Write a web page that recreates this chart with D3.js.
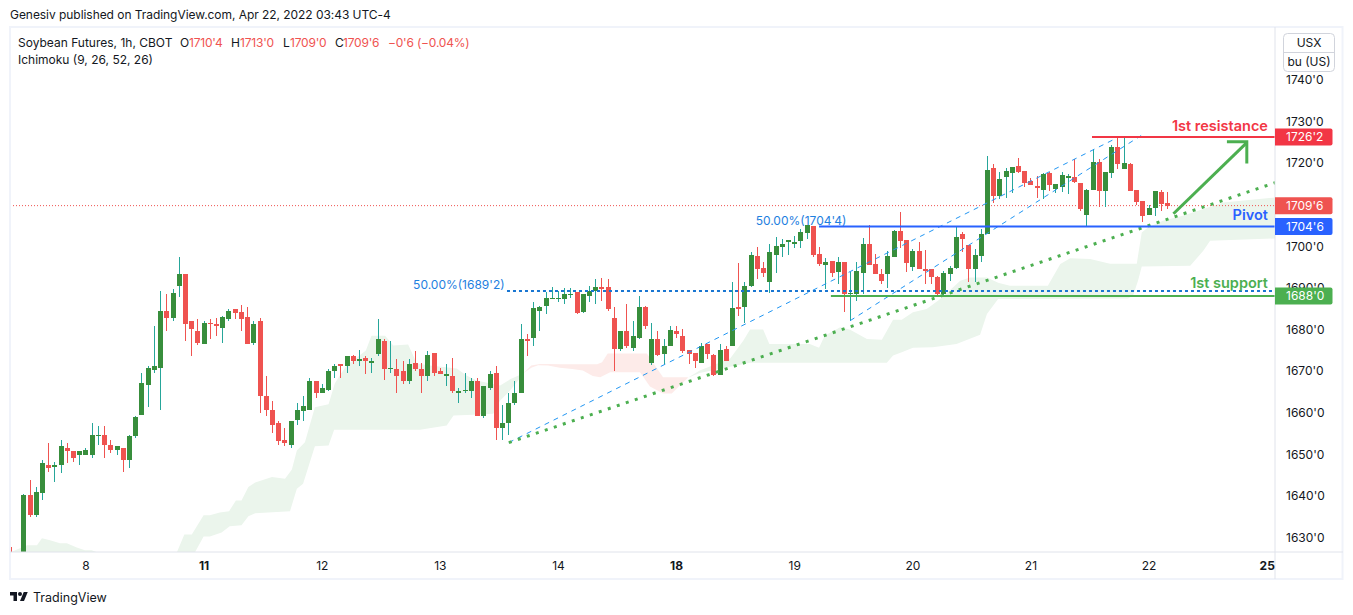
<!DOCTYPE html>
<html lang="en">
<head>
  <meta charset="UTF-8">
  <title>Soybean Futures</title>
  <style>
    html, body { margin: 0; padding: 0; background: #fff; }
    svg { display: block; }
    text { font-family: Inter, "Noto Sans", sans-serif; fill: #131722; }
  </style>
</head>
<body>
  <svg id="svg" width="1353" height="615"></svg>
  <script src="https://cdn.jsdelivr.net/npm/d3@7"></script>
  <script>
    // candles, one per hour, first two sit below the visible range
    const open = [
      1625,1622,1620,1640.3,1635.3,1640.6,1647.5,1647,1647.3,1651.4,
      1650.7,1649.9,1649.9,1649.9,1654.3,1654.5,1652.3,1650.9,1651.6,1648.5,
      1654.3,1659.5,1666.7,1670.3,1670.8,1684.5,1682.8,1690.5,1693.4,1681.9,
      1679.7,1676.6,1681.6,1681.4,1680.4,1682.6,1684.8,1684.3,1683.1,1676.8,
      1681.9,1664.1,1660.7,1657.4,1653.3,1652.3,1658.3,1660.5,1660.7,1667.7,
      1664.6,1665.5,1669.9,1671.6,1671.3,1673.5,1672.5,1673.2,1672,1674.2,
      1677.1,1670.6,1670.4,1669.9,1667.7,1672,1670.4,1668.7,1674.4,1670.1,
      1668.9,1668.9,1664.8,1665.1,1665.3,1667.7,1659.3,1666,1669.4,1656.4,
      1657.4,1662.4,1664.8,1677.8,1678,1684.5,1685.7,1687.4,1687.2,1687.2,
      1688.4,1689.1,1684.3,1688.1,1689.3,1690.3,1690.3,1682.8,1675.4,1679.7,
      1675.6,1678,1685.5,1672,1677.6,1674.2,1676.1,1679.7,1678.3,1675.1,
      1674.4,1672,1676.4,1673.95,1669.1,1675.4,1676.1,1685.5,1685.5,1690.5,
      1697.7,1694.8,1691.5,1698,1699.9,1700.9,1700.6,1701.3,1703.2,1704.9,
      1698.2,1695.6,1696.5,1693.9,1696.3,1688.6,1688.6,1693.6,1700.6,1695.8,
      1693.4,1693.2,1697.5,1703.7,1701.6,1695.1,1698.9,1694.6,1694.6,1692.7,
      1688.6,1693.4,1694.85,1703,1700.4,1694.6,1697.7,1703,1718.9,1712.1,
      1716.7,1717.7,1719.3,1718.1,1715.7,1714.5,1713.6,1717.7,1713.8,1714.3,
      1716.5,1716.7,1715.3,1707.6,1713.6,1720.3,1713.3,1717.7,1723.9,1718.6,
      1719.8,1713.6,1710.9,1707.6,1709.2,1713.1,1710.5
    ]
    const high = [
      1627.7,1624,1640.4,1643.9,1642,1648.5,1652.6,1648.2,1653.3,1652.8,
      1650.7,1650.7,1651.4,1657.4,1656.7,1656.7,1653.3,1651.9,1651.6,1654.5,
      1659.3,1669.4,1671.3,1680.9,1689.3,1688.6,1689.6,1697.5,1693.4,1681.9,
      1682.6,1682.1,1682.6,1682.8,1683.3,1684.8,1684.8,1685.9,1685.5,1682.1,
      1682.8,1668.9,1662.9,1657.9,1656.4,1658.1,1662.2,1663.9,1668.4,1667.7,
      1666.8,1670.4,1671.6,1671.8,1673.7,1673.9,1675.1,1673.7,1673.2,1682.6,
      1677.8,1677.3,1672.8,1672.3,1672.8,1674.9,1672,1674.9,1674.4,1670.8,
      1671.8,1673.2,1666,1669.4,1668.2,1668.2,1666.3,1670.1,1671.1,1661.9,
      1664.6,1667.7,1681.2,1678.8,1686.7,1685.7,1689.1,1690.3,1689.3,1690,
      1690,1689.1,1688.6,1690.5,1692.2,1692.4,1692,1685.5,1679.7,1686.2,
      1681.9,1688.1,1685.7,1681.6,1679.5,1677.8,1680.9,1680.7,1680.2,1675.1,
      1674.4,1676.8,1676.4,1674.2,1676.4,1676.1,1691.5,1696,1691.5,1698.7,
      1699.9,1696.3,1700.6,1702.3,1701.8,1701.6,1702.5,1704.2,1705.2,1704.9,
      1699.9,1697.2,1696.5,1697.5,1696.3,1693.9,1696.3,1702,1705.2,1698.2,
      1694.4,1698.9,1704,1708.3,1701.6,1699.4,1700.9,1699.2,1694.6,1692.9,
      1694.1,1695.3,1704.7,1703.5,1700.4,1699.4,1704.2,1721.7,1719.8,1717.9,
      1718.9,1719.1,1721.3,1718.1,1716.5,1716.9,1717.7,1717.9,1715,1717.9,
      1717.4,1721,1715.3,1713.8,1723.4,1721,1717.9,1724.4,1726.1,1726.1,
      1720.1,1713.6,1710.9,1710,1713.3,1713.6,1713
    ]
    const low = [
      1620,1618,1619,1635,1635,1638.9,1645.8,1643.2,1645.4,1647.8,
      1648.2,1647.3,1649.9,1649,1652.3,1649,1650.4,1649.7,1645.8,1646.8,
      1654,1659.5,1661.4,1669.4,1660.7,1679.7,1682.1,1687.9,1677.3,1673.7,
      1676.3,1676.6,1677.8,1678.5,1676.8,1681.9,1682.6,1679.5,1676.6,1676.3,
      1659.8,1659.3,1655,1652.3,1651.9,1651.4,1656.9,1658.1,1660.7,1663.4,
      1664.6,1665.3,1668.4,1668.2,1669.4,1671.6,1671.1,1669.2,1669.4,1673.5,
      1667.9,1669.6,1664.8,1666.8,1666.8,1669.9,1664.8,1667.7,1668.9,1669.2,
      1666.3,1664.8,1662.4,1664.8,1663.6,1659.1,1658.6,1665.5,1653.5,1653.5,
      1654.5,1661.9,1664.8,1673.7,1676.1,1679.7,1683.8,1687.2,1686.7,1686.2,
      1687.6,1683.8,1684,1686.7,1686,1686.9,1684.5,1669.9,1674.9,1675.6,
      1674.9,1677.8,1680.2,1671.5,1673.5,1671.8,1676.1,1678,1674.4,1671.8,
      1670.8,1672,1672.8,1668.9,1669.1,1672.3,1676.1,1683.3,1681.6,1690.3,
      1692.2,1692.5,1688.8,1693.6,1697.5,1698,1699.6,1699.6,1701.8,1697.5,
      1695.3,1689.8,1692.5,1690.8,1684.3,1681.9,1686.9,1688.6,1695.6,1693.2,
      1690.8,1690,1697.5,1699.6,1693.9,1694.1,1694.4,1690.8,1690.8,1688.1,
      1687.9,1691.7,1694.6,1698.7,1691.5,1691.5,1696.3,1703,1710.5,1711.4,
      1711.7,1712.9,1717.7,1714.3,1714.8,1711.7,1711.4,1713.3,1712.9,1713.1,
      1712.6,1715.3,1708.5,1704.5,1713.6,1709.5,1709.5,1716.5,1718.6,1718.6,
      1713.3,1710,1705.7,1707.6,1707.3,1708.5,1709
    ]
    const close = [
      1622,1620,1640.1,1635.3,1640.8,1648,1646.8,1647.5,1651.9,1650.7,
      1649.2,1650.7,1650.9,1654.5,1654.7,1652.3,1650.9,1651.9,1648.7,1654.3,
      1659,1667,1670.8,1671.3,1684.5,1682.8,1688.8,1693.4,1681.4,1680,
      1676.8,1681.6,1681.2,1680.7,1683.1,1684.5,1684,1682.6,1676.6,1681.4,
      1664.1,1660.7,1657.1,1653.1,1652.6,1657.9,1660.7,1661.5,1667.5,1664.8,
      1666,1669.9,1671.1,1671.1,1673.5,1672.5,1672.8,1672.3,1672.5,1677.6,
      1670.4,1670.8,1668.7,1667.5,1671.8,1670.4,1668.7,1673.95,1669.6,1669.2,
      1669.2,1665.3,1665.1,1665.5,1667.7,1659.1,1666.3,1669.2,1656.4,1657.6,
      1662.4,1664.8,1677.8,1677.3,1685.2,1685.5,1687.6,1687.6,1687.6,1688.6,
      1688.6,1684,1688.4,1689.3,1690.3,1689.8,1685,1675.4,1679.7,1675.9,
      1678.5,1685.5,1680.7,1677.8,1673.95,1676.1,1679.9,1679,1674.9,1674.1,
      1672.3,1676.1,1674.2,1669.1,1675.1,1672.5,1685.2,1685,1690.5,1698,
      1694.4,1693.6,1698.7,1700.1,1700.6,1701.6,1701.1,1703.5,1705.2,1698,
      1695.8,1696.3,1693.6,1696.3,1688.6,1688.8,1694.1,1700.6,1695.6,1693.2,
      1691.7,1697.7,1703.7,1701.3,1696,1698.9,1694.4,1694.1,1692.5,1688.6,
      1693.6,1694.85,1702.3,1701.8,1694.6,1698,1703,1718.4,1712.1,1716.2,
      1718.1,1719.1,1717.9,1715.3,1714.8,1714.1,1717.4,1714.8,1715,1717.2,
      1716.9,1715.5,1709,1713.6,1720.3,1713.3,1717.9,1723.9,1719.8,1720.1,
      1713.3,1710.7,1707.3,1709.2,1713.3,1710.2,1709.75
    ]

    // ichimoku cloud outlines: bar position and price
    const cloud1Bars = [-0.1,2.6,4.2,5,6.3,7.9,9,10.6,11.9,13,13.9]
    const cloud1Upper = [1626.4,1628.1,1628.1,1629.8,1629.3,1628.6,1628.6,1627.6,1626.9,1626.9,1626.4]

    const cloud2UpperBars = [26.7,27.9,29.1,31,32,33.6,35.1,36.2,37.1,38.2,39.3,42,44.1,45.2,46,47.3,48.9,51.1,52.1,52.9,54,57.1,58,60.2,61.5,63.9,65.3,67.4,71.7,73.3,74.9,78.7,80.3,82.4]
    const cloud2Upper = [1626.4,1630.7,1630.7,1635.3,1635.3,1636,1636.3,1638.9,1638.9,1642.1,1643.2,1644.5,1644.1,1646.3,1650.9,1652.9,1661.3,1662,1667,1668.9,1671.3,1674.9,1678.5,1678.5,1676.1,1676.4,1671.8,1671.3,1670.6,1668.9,1667.7,1666.5,1668,1669.4]
    const cloud2LowerBars = [29.6,31,32,33.9,35.2,37.1,38.2,39.3,44.9,46,47,48.9,51.1,52,65.8,70.1,71.2,74.4,77.6,78.7,80.3,81.6,82.4]
    const cloud2Lower = [1626.4,1630.2,1630.2,1631.2,1632.7,1632.9,1635.1,1635.8,1636.3,1641.7,1642.9,1651.9,1652.1,1655.9,1655.9,1656.9,1659.3,1659.5,1659.7,1662.9,1665.3,1667.7,1669.4]

    const redUpperBars = [82.4,83.7,85.1,86.4,88.3,94.3,95.1,96,102.3,103.6,104.9,108.9]
    const redUpper = [1669.4,1671.3,1671.7,1671.7,1671.6,1671.6,1672.1,1674.2,1674.2,1671.3,1668.5,1668.5]
    const redLowerBars = [82.4,83.7,84.8,86.4,88.3,90.3,92,93.6,94.8,96.4,101.2,102.8,104.9,106.3,107.6,108.9]
    const redLower = [1669.4,1670.8,1671.4,1671.3,1670.8,1670.5,1670.1,1668.8,1668.5,1669.7,1669.7,1666.3,1664.6,1664.6,1666.5,1668.4]

    const cloud3UpperBars = [108.9,110.8,115.7,117.8,118.9,121,122,128.5,130,130.9,133.4,135,137.7,140.1,141.9,143.3,145.1,147.3,149.5,152.7,154.3,157,158.8,160.7,166.8,168.8,170.4,173.6,176.8,181.1,181.9,182.9,185.3,188.5,195,204]
    const cloud3Upper = [1668.4,1670.1,1673,1677.3,1680,1680,1676.5,1676.5,1675.6,1678.5,1680.5,1679.9,1677.7,1677.5,1682.3,1682.3,1684.1,1684.9,1687.3,1691.7,1692.5,1692.5,1691.2,1690.5,1690.5,1695.7,1697.1,1696.9,1695.8,1695.8,1703.3,1704.5,1706.1,1707.3,1710.5,1711.8]
    const cloud3LowerBars = [108.9,110.8,114.3,118.9,140.9,141.9,143.3,145.1,148.3,152.1,155.9,157,158.8,179.7,180.5,181.3,181.9,189.7,191.8,192.9,204]
    const cloud3Lower = [1668.4,1669.5,1670.6,1672,1672,1673.7,1674.5,1675.6,1675.7,1676.5,1678.7,1683.7,1687.3,1687.4,1688.1,1691.7,1695.1,1695.3,1698.9,1701.3,1701.9]

    // axis ticks
    const priceTicks = [1630,1640,1650,1660,1670,1680,1690,1700,1710,1720,1730,1740]
    const dayBars = [12,31,50,69,88,107,126,145,164,183,202]
    const dayLabels = ['8','11','12','13','14','18','19','20','21','22','25']
    const boldDays = ['11','18','25']

    // levels
    const resistance = 1726.25
    const pivot = 1704.75
    const support = 1688
    const lastPrice = 1709.75
    const fibLevel = 1689.25

    const svg = d3.select('#svg')

    // scales, pixel positions fitted to the reference
    const x = d3.scaleLinear().domain([0, 202]).range([10.87, 1266.7])
    const y = d3.scaleLinear().domain([1630, 1740]).range([537.4, 79.8])

    const chartLeft = 10
    const chartRight = 1275
    const chartTop = 27
    const chartBottom = 552

    svg.append('defs').append('clipPath').attr('id', 'plot')
      .append('rect')
      .attr('x', chartLeft).attr('y', chartTop)
      .attr('width', chartRight - chartLeft).attr('height', chartBottom - chartTop)

    const plot = svg.append('g').attr('clip-path', 'url(#plot)')

    // Make the cloud
    const outline = d3.line().x(d => x(d[0])).y(d => y(d[1]))
    const shape = (ub, uv, lb, lv) =>
      outline(d3.zip(ub, uv).concat(d3.zip(lb, lv).reverse())) + 'Z'
    const cloudGreen = '#ebf5ec'
    const cloudRed = '#fdebe9'

    plot.append('path').attr('fill', cloudGreen)
      .attr('d', shape(cloud1Bars, cloud1Upper, cloud1Bars, cloud1Bars.map(() => 1620)))
    plot.append('path').attr('fill', cloudGreen)
      .attr('d', shape(cloud2UpperBars, cloud2Upper, cloud2LowerBars, cloud2Lower))
    plot.append('path').attr('fill', cloudRed)
      .attr('d', shape(redUpperBars, redUpper, redLowerBars, redLower))
    plot.append('path').attr('fill', cloudGreen)
      .attr('d', shape(cloud3UpperBars, cloud3Upper, cloud3LowerBars, cloud3Lower))

    // last price line
    plot.append('line')
      .attr('x1', chartLeft).attr('x2', chartRight)
      .attr('y1', y(lastPrice)).attr('y2', y(lastPrice))
      .attr('stroke', '#ef5350').attr('stroke-dasharray', '1 2')

    // Make the candles
    const candles = plot.append('g').attr('shape-rendering', 'crispEdges')
      .selectAll('g').data(d3.range(open.length)).enter().append('g')

    candles.append('rect')
      .attr('x', i => Math.round(x(i)))
      .attr('width', 1)
      .attr('y', i => Math.round(y(high[i])))
      .attr('height', i => Math.max(1, Math.round(y(low[i])) - Math.round(y(high[i]))))
      .attr('fill', i => close[i] >= open[i] ? '#26a69a' : '#ef5350')

    candles.append('rect')
      .attr('x', i => Math.round(x(i)) - 2)
      .attr('width', 5)
      .attr('y', i => Math.round(y(Math.max(open[i], close[i]))))
      .attr('height', i => Math.max(1, Math.round(y(Math.min(open[i], close[i]))) - Math.round(y(Math.max(open[i], close[i])))))
      .attr('fill', i => close[i] >= open[i] ? '#388e3c' : '#ef5350')

    // Drawings on top of the candles
    const seg = (b1, p1, b2, p2, color, width, dash) =>
      plot.append('line')
        .attr('x1', x(b1)).attr('y1', y(p1))
        .attr('x2', x(b2)).attr('y2', y(p2))
        .attr('stroke', color).attr('stroke-width', width)
        .attr('stroke-dasharray', dash || null)

    seg(80.1, 1652.8, 177.6, 1725.8, '#2196f3', 1, '5 5')
    seg(135, 1682.1, 181.8, 1726.6, '#2196f3', 1, '5 5')
    seg(80.1, 1652.8, 205, 1716.1, '#4caf50', 3, '3 6.5')
    seg(79.8, fibLevel, 202.9, fibLevel, '#1976d2', 2, '3 3')
    seg(130, pivot, 205, pivot, '#2962ff', 2)
    seg(131.9, support, 205, support, '#4caf50', 2)
    seg(173.9, resistance, 205, resistance, '#f23645', 2)

    // arrow
    plot.append('path')
      .attr('d', outline([[187, 1707.8], [198.8, 1724.9]]))
      .attr('stroke', '#4caf50').attr('stroke-width', 3).attr('fill', 'none')
    plot.append('path')
      .attr('d', outline([[195.6, 1725.1], [198.8, 1725.1], [198.8, 1719.9]]))
      .attr('stroke', '#4caf50').attr('stroke-width', 3).attr('fill', 'none')

    const note = (anchorBar, price, str, color, anchor, size, weight) =>
      svg.append('text')
        .attr('x', x(anchorBar)).attr('y', y(price))
        .attr('dy', '0.35em')
        .attr('text-anchor', anchor)
        .attr('font-size', size).attr('font-weight', weight)
        .style('fill', color)
        .text(str)

    note(64.7, 1690.8, "50.00%(1689'2)", '#1e80e0', 'start', 12, 400)
    note(119.8, 1706, "50.00%(1704'4)", '#1e80e0', 'start', 12, 400)
    note(202.2, 1728.9, '1st resistance', '#f23645', 'end', 14.5, 600)
    note(202.2, 1707.45, 'Pivot', '#2962ff', 'end', 14.5, 600)
    note(202.2, 1691.1, '1st support', '#4caf50', 'end', 14.5, 600)

    // frame and panes
    svg.append('rect')
      .attr('x', 10).attr('y', 27).attr('width', 1332.5).attr('height', 552)
      .attr('fill', 'none').attr('stroke', '#f0f3fa').attr('stroke-width', 2)
    svg.append('line')
      .attr('x1', chartRight).attr('x2', chartRight).attr('y1', 27).attr('y2', 579)
      .attr('stroke', '#e0e3eb')
    svg.append('line')
      .attr('x1', 10).attr('x2', 1343).attr('y1', chartBottom).attr('y2', chartBottom)
      .attr('stroke', '#e0e3eb')

    // right axis
    const rightAxis = d3.axisRight(y)
      .tickValues(priceTicks)
      .tickSize(0)
      .tickPadding(11)
      .tickFormat(d => d + "'0")
    const rightG = svg.append('g')
      .attr('transform', `translate(${chartRight}, 0)`)
      .call(rightAxis)
    rightG.select('.domain').remove()
    rightG.selectAll('text').attr('font-size', 12).attr('font-family', null)

    // bottom axis
    const bottomAxis = d3.axisBottom(x)
      .tickValues(dayBars)
      .tickSize(0)
      .tickPadding(9)
      .tickFormat(d => dayLabels[dayBars.indexOf(d)])
    const bottomG = svg.append('g')
      .attr('transform', `translate(0, ${chartBottom})`)
      .call(bottomAxis)
    bottomG.select('.domain').remove()
    bottomG.selectAll('text')
      .attr('font-size', 12).attr('font-family', null)
      .attr('font-weight', function() { return boldDays.includes(this.textContent) ? 700 : 400 })

    // price tags
    const tags = [
      [resistance, "1726'2", '#f23645'],
      [lastPrice, "1709'6", '#ef5350'],
      [pivot, "1704'6", '#2962ff'],
      [support, "1688'0", '#4caf50']
    ]
    tags.forEach(t => {
      svg.append('path')
        .attr('d', `M${chartRight} ${y(t[0]) - 8.5}h55.5a2 2 0 0 1 2 2v13a2 2 0 0 1 -2 2h-55.5z`)
        .attr('fill', t[2])
      svg.append('text')
        .attr('x', 1286).attr('y', y(t[0])).attr('dy', '0.35em')
        .attr('font-size', 12).style('fill', '#fff').text(t[1])
    })

    // currency box
    svg.append('rect')
      .attr('x', 1283.5).attr('y', 33.5).attr('width', 51).attr('height', 38).attr('rx', 4)
      .attr('fill', '#fff').attr('stroke', '#d1d4dc')
    svg.append('line')
      .attr('x1', 1284).attr('x2', 1334).attr('y1', 52.5).attr('y2', 52.5)
      .attr('stroke', '#d1d4dc')
    svg.append('text').attr('x', 1309).attr('y', 43).attr('dy', '0.35em')
      .attr('text-anchor', 'middle').attr('font-size', 12).text('USX')
    svg.append('text').attr('x', 1309).attr('y', 62).attr('dy', '0.35em')
      .attr('text-anchor', 'middle').attr('font-size', 12).text('bu (US)')

    // header
    svg.append('text').attr('x', 10).attr('y', 15).attr('dy', '0.35em')
      .attr('font-size', 12).attr('letter-spacing', -0.05)
      .text('Genesiv published on TradingView.com, Apr 22, 2022 03:43 UTC-4')

    const legend = [
      [18, 'Soybean Futures, 1h, CBOT', '#131722'],
      [180, 'O', '#131722'], [189, "1710'4", '#ef5350'],
      [231, 'H', '#131722'], [240, "1713'0", '#ef5350'],
      [283, 'L', '#131722'], [290, "1709'0", '#ef5350'],
      [335, 'C', '#131722'], [343, "1709'6", '#ef5350'],
      [388, "\u22120'6 (\u22120.04%)", '#ef5350']
    ]
    legend.forEach(d => {
      svg.append('text').attr('x', d[0]).attr('y', 43).attr('dy', '0.35em')
        .attr('font-size', 12).attr('letter-spacing', d[2] === '#ef5350' ? -0.2 : 0)
        .style('fill', d[2]).text(d[1])
    })
    svg.append('text').attr('x', 18).attr('y', 60).attr('dy', '0.35em')
      .attr('font-size', 12).text('Ichimoku (9, 26, 52, 26)')

    // footer logo
    const logo = svg.append('g').attr('transform', 'translate(10, 590) scale(0.5)').attr('fill', '#131722')
    logo.append('path').attr('d', 'M14 22H7V11H0V4h14v18zM28 22h-8l7.5-18h8L28 22z')
    logo.append('circle').attr('cx', 20).attr('cy', 8).attr('r', 4)
    svg.append('text').attr('x', 33).attr('y', 598).attr('dy', '0.35em')
      .attr('font-size', 12.5).text('TradingView')
  </script>
</body>
</html>
